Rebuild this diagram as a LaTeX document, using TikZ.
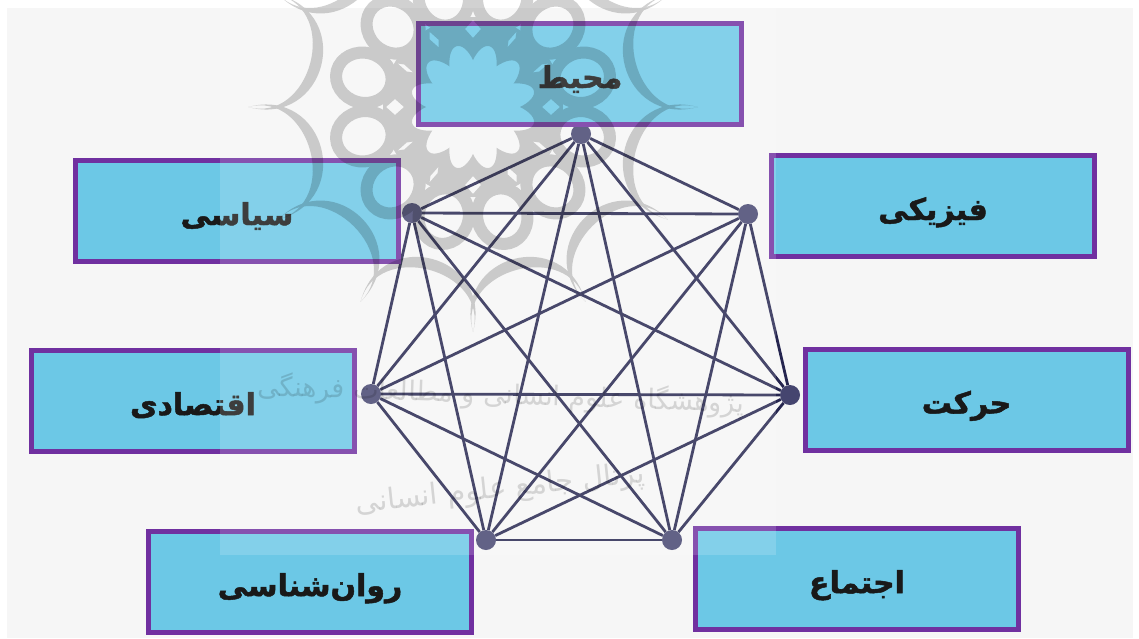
\documentclass[tikz,border=0pt]{standalone}
\usepackage{fontspec}
\usepackage{xcolor}
\newfontfamily\farsifont[Script=Arabic,BoldFeatures={FakeBold=1.6}]{DejaVu Sans}
\TeXXeTstate=1
\definecolor{boxblue}{HTML}{6CC8E6}
\definecolor{boxpurple}{HTML}{7030A0}
\definecolor{edgeblue}{HTML}{25254F}
\definecolor{dotblue}{HTML}{45456F}
\definecolor{pagegray}{HTML}{F6F6F6}
\newcommand{\fa}[1]{\farsifont\bfseries\beginR #1\endR}

\begin{document}
\begin{tikzpicture}[
    x=1pt, y=-1pt,
    topic/.style={rectangle, draw=boxpurple, fill=boxblue, line width=5pt, minimum width=323pt, minimum height=101pt, inner sep=0pt, text=black!90, text height=28pt, text depth=0pt, font=\fontsize{30}{34}\selectfont},
    vertex/.style={circle, fill=dotblue, minimum size=20pt, inner sep=0pt},
    edge/.style={edgeblue, line width=2.8pt},
    mark text/.style={text=black, opacity=0.14, inner sep=0pt}
]
    \useasboundingbox (0,0) rectangle (1139,638);
    \fill[pagegray] (7,8) rectangle (1133,638);

    \node[vertex] (v1) at (581,134) {};
    \node[vertex] (v2) at (748,214) {};
    \node[vertex] (v3) at (790,395) {};
    \node[vertex] (v4) at (672,540) {};
    \node[vertex] (v5) at (486,540) {};
    \node[vertex] (v6) at (371,394) {};
    \node[vertex] (v7) at (412,213) {};

    \foreach \a in {1,...,6} {
        \pgfmathtruncatemacro{\c}{\a+1}
        \foreach \b in {\c,...,7} {
            \draw[edge] (v\a) -- (v\b);
        }
    }

    \node[topic] (env) at (580,74) {\fa{محیط}};
    \node[topic] (politics) at (237,211) {\fa{سیاسی}};
    \node[topic] (physics) at (933,206) {\fa{فیزیکی}};
    \node[topic] (economy) at (193,401) {\fa{اقتصادی}};
    \node[topic] (motion) at (966.5,399.5) {\fa{حرکت}};
    \node[topic] (psychology) at (310,582) {\fa{روان‌شناسی}};
    \node[topic] (society) at (857,579) {\fa{اجتماع}};

    \fill[white, opacity=0.16] (220,0) rectangle (776,555);

    \begin{scope}
        \clip (0,0) rectangle (1139,638);
        \begin{scope}[shift={(473,107)}, transparency group, opacity=0.18]
            \fill[black, even odd rule] (0,0) circle (90pt)
                plot[domain=0:360, samples=181] ({(47+16*abs(sin(6*\x)))*cos(\x)}, {(47+16*abs(sin(6*\x)))*sin(\x)})
                (69,0) -- (78,8) -- (87,0) -- (78,-8) -- cycle
                (30:69) -- ++(9,8) -- (30:87) -- ++(-9,-8) -- cycle
                (60:69) -- ++(9,8) -- (60:87) -- ++(-9,-8) -- cycle
                (90:69) -- ++(8,9) -- (90:87) -- ++(-8,-9) -- cycle
                (120:69) -- ++(-8,9) -- (120:87) -- ++(8,-9) -- cycle
                (150:69) -- ++(-9,8) -- (150:87) -- ++(9,-8) -- cycle
                (180:69) -- ++(-9,8) -- (180:87) -- ++(9,-8) -- cycle
                (210:69) -- ++(-9,-8) -- (210:87) -- ++(9,8) -- cycle
                (240:69) -- ++(-9,-8) -- (240:87) -- ++(9,8) -- cycle
                (270:69) -- ++(-8,-9) -- (270:87) -- ++(8,9) -- cycle
                (300:69) -- ++(8,-9) -- (300:87) -- ++(-8,9) -- cycle
                (330:69) -- ++(9,-8) -- (330:87) -- ++(-9,8) -- cycle;
            \foreach \t in {15,45,...,345} {
                \draw[black, line width=12pt, rotate=\t] (113,0) ellipse (28pt and 25pt);
            }
            \foreach \t in {0,30,...,330} {
                \fill[black, rotate=\t] (0:225) .. controls +(195:65) and +(195:65) .. (30:225)
                    .. controls +(195:80) and +(195:80) .. cycle;
            }
        \end{scope}
    \end{scope}

    \node[mark text, rotate=-2, font=\farsifont\fontsize{27}{30}\selectfont] (mark1) at (501,395) {\beginR پژوهشگاه علوم انسانی و مطالعات فرهنگی\endR};
    \node[mark text, rotate=6, font=\farsifont\fontsize{29}{32}\selectfont] (mark2) at (500,490) {\beginR پرتال جامع علوم انسانی\endR};
\end{tikzpicture}
\end{document}
